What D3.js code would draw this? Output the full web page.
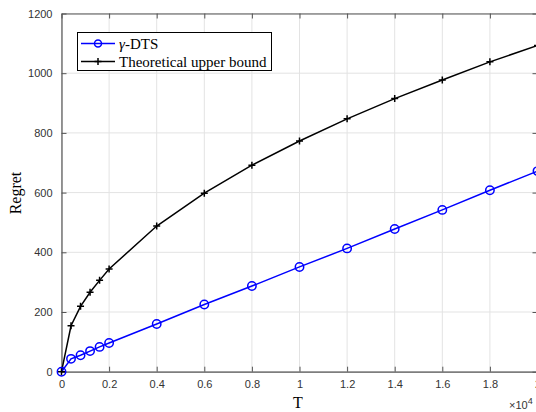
<!DOCTYPE html>
<html><head><meta charset="utf-8">
<script src="https://cdn.jsdelivr.net/npm/d3@7"></script>
<style>body{margin:0;background:#fff}svg{display:block}</style>
</head><body>
<svg id="c" width="536" height="412"></svg>
<script>
const T = [0, 400, 800, 1200, 1600, 2000, 4000, 6000, 8000, 10000, 12000, 14000, 16000, 18000, 20000];
const dts = [0, 43, 55, 69, 83, 96, 160, 225, 287, 351, 413, 478, 542, 608, 672];
const bound = [0, 154, 219, 266, 306, 344, 488, 598, 692, 773, 847, 915, 977, 1038, 1093];
const xTicks = [0, 2000, 4000, 6000, 8000, 10000, 12000, 14000, 16000, 18000, 20000];
const xTickLabels = ["0", "0.2", "0.4", "0.6", "0.8", "1", "1.2", "1.4", "1.6", "1.8", "2"];
const yTicks = [0, 200, 400, 600, 800, 1000, 1200];
const seriesNames = ["\u03B3-DTS", "Theoretical upper bound"];

const svg = d3.select("#c");
const L = 61.5, R = 537.5, Tp = 13.5, B = 371.7;
const x = d3.scaleLinear().domain([0, 20000]).range([L, R]);
const y = d3.scaleLinear().domain([0, 1200]).range([B, Tp]);
const axisCol = "#555";

// grid
const g = svg.append("g");
g.selectAll(".gx").data(xTicks).enter().append("line")
  .attr("x1", d => x(d)).attr("x2", d => x(d)).attr("y1", Tp).attr("y2", B)
  .attr("stroke", "#e3e3e3").attr("stroke-width", 1);
g.selectAll(".gy").data(yTicks).enter().append("line")
  .attr("x1", L).attr("x2", R).attr("y1", d => y(d)).attr("y2", d => y(d))
  .attr("stroke", "#e3e3e3").attr("stroke-width", 1);

// axes
const fmt = d => xTickLabels[xTicks.indexOf(d)];
const axB = d3.axisBottom(x).tickValues(xTicks).tickFormat(fmt).tickSizeInner(-5).tickSizeOuter(0).tickPadding(9);
const axT = d3.axisTop(x).tickValues(xTicks).tickFormat("").tickSizeInner(-5).tickSizeOuter(0);
const axLf = d3.axisLeft(y).tickValues(yTicks).tickFormat(d3.format("d")).tickSizeInner(-5).tickSizeOuter(0).tickPadding(9);
const axRt = d3.axisRight(y).tickValues(yTicks).tickFormat("").tickSizeInner(-5).tickSizeOuter(0);
function style(sel){
  sel.select(".domain").attr("stroke", axisCol).attr("stroke-width", 1.2);
  sel.selectAll(".tick line").attr("stroke", axisCol).attr("stroke-width", 1);
  sel.selectAll(".tick text").attr("fill", "#333").style("font-family", "'Liberation Sans', Arial, sans-serif").style("font-size", "11px");
}
svg.append("g").attr("transform", `translate(0,${B})`).call(axB).call(style);
svg.append("g").attr("transform", `translate(0,${Tp})`).call(axT).call(style);
svg.append("g").attr("transform", `translate(${L},0)`).call(axLf).call(style);
svg.append("g").attr("transform", `translate(${R},0)`).call(axRt).call(style);

// lines
const line = d3.line().x((d,i) => x(T[i])).y(d => y(d));
svg.append("path").datum(bound).attr("d", line).attr("fill", "none").attr("stroke", "#000").attr("stroke-width", 1.5);
svg.append("path").datum(dts).attr("d", line).attr("fill", "none").attr("stroke", "#0000ff").attr("stroke-width", 1.5);

// markers
svg.selectAll(".pm").data(bound).enter().append("path")
  .attr("d", (d,i) => { const cx = x(T[i]), cy = y(d), s = 3.5; return `M${cx-s},${cy}H${cx+s}M${cx},${cy-s}V${cy+s}`; })
  .attr("stroke", "#000").attr("stroke-width", 1.5).attr("fill", "none");
svg.selectAll(".cm").data(dts).enter().append("circle")
  .attr("cx", (d,i) => x(T[i])).attr("cy", d => y(d)).attr("r", 4.2)
  .attr("fill", "none").attr("stroke", "#0000ff").attr("stroke-width", 1.5);

// labels
const serif = "'Liberation Serif', 'Times New Roman', serif";
svg.append("text").attr("x", 298).attr("y", 408).attr("text-anchor", "middle")
  .style("font-family", serif).style("font-size", "16px").attr("fill", "#000").text("T");
svg.append("text").attr("transform", "translate(21,193) rotate(-90)").attr("text-anchor", "middle")
  .style("font-family", serif).style("font-size", "16px").attr("fill", "#000").text("Regret");
const ex = svg.append("text").attr("x", 509).attr("y", 409)
  .style("font-family", "'Liberation Sans', Arial, sans-serif").style("font-size", "11px").attr("fill", "#333");
ex.append("tspan").text("\u00D710");
ex.append("tspan").attr("dy", -5).style("font-size", "9px").text("4");

// legend
const lg = svg.append("g");
lg.append("rect").attr("x", 77.5).attr("y", 32.5).attr("width", 194).attr("height", 38)
  .attr("fill", "#fff").attr("stroke", "#000").attr("stroke-width", 1);
const rows = [43.5, 61.5];
seriesNames.forEach((n, i) => {
  const col = i === 0 ? "#0000ff" : "#000";
  lg.append("line").attr("x1", 81).attr("x2", 115).attr("y1", rows[i]).attr("y2", rows[i]).attr("stroke", col).attr("stroke-width", 1.5);
  if (i === 0) lg.append("circle").attr("cx", 98).attr("cy", rows[i]).attr("r", 3.5).attr("fill", "none").attr("stroke", col).attr("stroke-width", 1.5);
  else lg.append("path").attr("d", `M94.5,${rows[i]}H101.5M98,${rows[i]-3.5}V${rows[i]+3.5}`).attr("stroke", col).attr("stroke-width", 1.5);
  const t = lg.append("text").attr("x", 119).attr("y", rows[i] + 5).style("font-family", serif).style("font-size", "15px").attr("fill", "#000");
  if (i === 0) { t.append("tspan").style("font-style", "italic").text(n.slice(0, 1)); t.append("tspan").text(n.slice(1)); }
  else t.text(n);
});
</script>
</body></html>
